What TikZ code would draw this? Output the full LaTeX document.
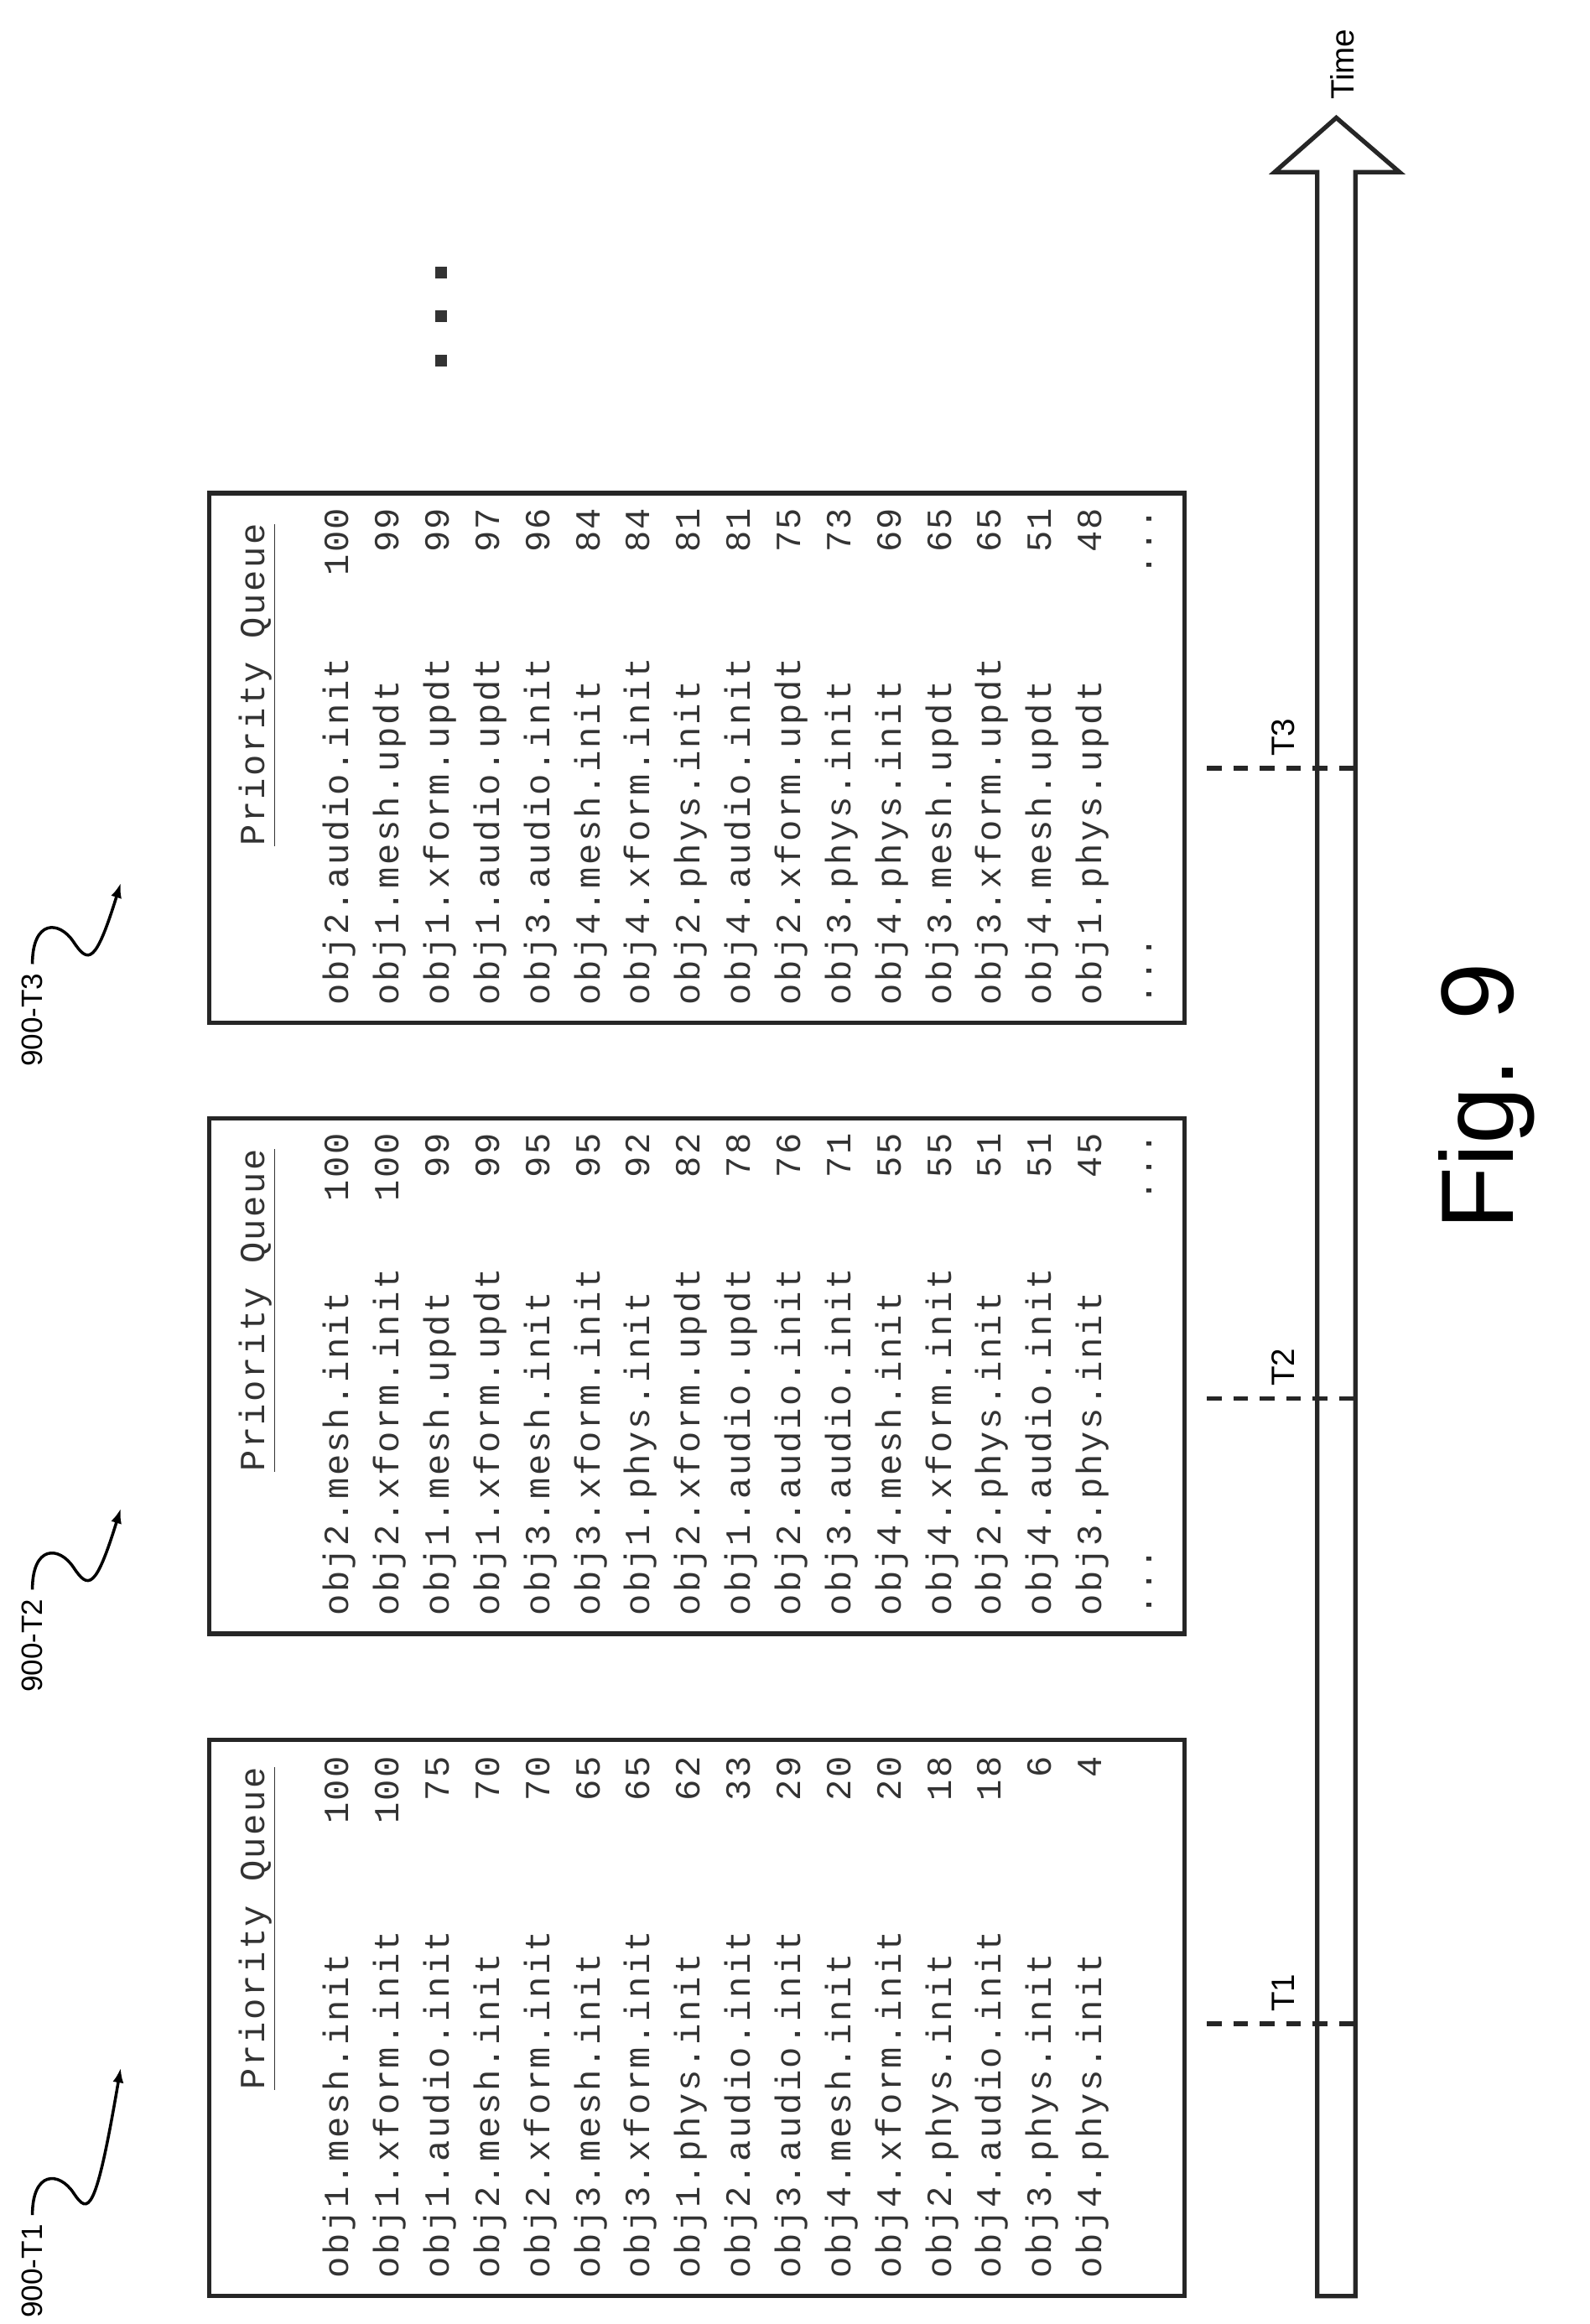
\documentclass[tikz,border=0pt]{standalone}
\usepackage{fontspec}
\usetikzlibrary{arrows.meta}
\setmonofont{Liberation Mono}[LetterSpace=6]
\setsansfont{Liberation Sans}
\newcommand\tdots{...}
\begin{document}
\begin{tikzpicture}[x=1pt,y=1pt,
  txt/.style={rotate=90,inner sep=0pt,font=\fontsize{24}{28}\ttfamily,text=black!80},
  boxl/.style={draw=black!85,line width=3pt},
  lbl/.style={rotate=90,inner sep=0pt,font=\fontsize{22}{26}\sffamily}]
\useasboundingbox (0,0) rectangle (1080,-1579);
% boxes
\draw[boxl] (142,-1182) rectangle (805,-1560);
\draw[boxl] (142,-760) rectangle (805,-1110);
\draw[boxl] (142,-335) rectangle (805,-695);
% headers
\node[txt,anchor=base west] (h1) at (180,-1420) {\underline{Priority Queue}};
\node[txt,anchor=base west] (h2) at (180,-1000) {\underline{Priority Queue}};
\node[txt,anchor=base west] (h3) at (180,-575) {\underline{Priority Queue}};
% box 1
\foreach \n/\v [count=\i from 0] in {obj1.mesh.init/100,obj1.xform.init/100,obj1.audio.init/75,obj2.mesh.init/70,obj2.xform.init/70,obj3.mesh.init/65,obj3.xform.init/65,obj1.phys.init/62,obj2.audio.init/33,obj3.audio.init/29,obj4.mesh.init/20,obj4.xform.init/20,obj2.phys.init/18,obj4.audio.init/18,obj3.phys.init/6,obj4.phys.init/4}{
  \node[txt,anchor=base west] (a\i) at (237+34.1*\i,-1548) {\n};
  \node[txt,anchor=base east] (av\i) at (237+34.1*\i,-1193) {\v};
}
% box 2
\foreach \n/\v [count=\i from 0] in {obj2.mesh.init/100,obj2.xform.init/100,obj1.mesh.updt/99,obj1.xform.updt/99,obj3.mesh.init/95,obj3.xform.init/95,obj1.phys.init/92,obj2.xform.updt/82,obj1.audio.updt/78,obj2.audio.init/76,obj3.audio.init/71,obj4.mesh.init/55,obj4.xform.init/55,obj2.phys.init/51,obj4.audio.init/51,obj3.phys.init/45,\tdots/\tdots}{
  \node[txt,anchor=base west] (b\i) at (237+34.1*\i,-1098) {\n};
  \node[txt,anchor=base east] (bv\i) at (237+34.1*\i,-770) {\v};
}
% box 3
\foreach \n/\v [count=\i from 0] in {obj2.audio.init/100,obj1.mesh.updt/99,obj1.xform.updt/99,obj1.audio.updt/97,obj3.audio.init/96,obj4.mesh.init/84,obj4.xform.init/84,obj2.phys.init/81,obj4.audio.init/81,obj2.xform.updt/75,obj3.phys.init/73,obj4.phys.init/69,obj3.mesh.updt/65,obj3.xform.updt/65,obj4.mesh.updt/51,obj1.phys.updt/48,\tdots/\tdots}{
  \node[txt,anchor=base west] (c\i) at (237+34.1*\i,-683) {\n};
  \node[txt,anchor=base east] (cv\i) at (237+34.1*\i,-345) {\v};
}
% time arrow
\draw[line width=3pt,draw=black!85,line join=miter]
  (895,-1560) -- (895,-117) -- (866,-117) -- (908,-80) -- (951,-117) -- (921,-117) -- (921,-1560) -- cycle;
\node[lbl,anchor=west] (time) at (912,-68) {Time};
% ticks
\foreach \y/\t in {1375/T1,950/T2,522/T3}{
  \draw[line width=3pt,black!85,dash pattern=on 10pt off 8pt] (820,-\y) -- (925,-\y);
  \node[lbl,anchor=west] at (872,-\y+8) {\t};
}
% dots
\foreach \y in {185,215,245}{\fill[black!80] (300,-\y) +(-4,-4) rectangle +(4,4);}
% labels with squiggle arrows
\foreach \y/\t/\ay in {1505/900-T1/1405,1080/900-T2/1025,655/900-T3/600}{
  \node[lbl,anchor=west,font=\fontsize{20}{24}\sffamily] (L\t) at (22,-\y-70) {\t};
  \draw[line width=2pt,-{Latex[length=10pt]}] (22,-\y) .. controls (22,-\y+30) and (40,-\y+30) .. (50,-\y+15) .. controls (60,-\y) and (65,-\y) .. (82,-\ay);
}
\node[rotate=90,font=\fontsize{70}{80}\sffamily] (fig) at (1010,-745) {Fig. 9};
\end{tikzpicture}
\end{document}
